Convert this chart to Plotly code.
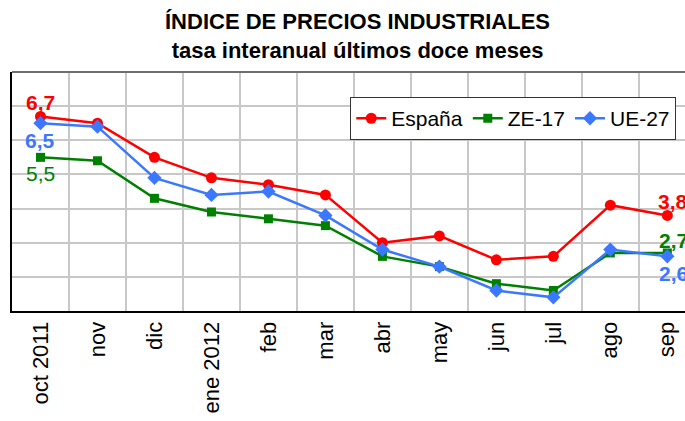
import plotly.graph_objects as go

meses = ["oct 2011", "nov", "dic", "ene 2012", "feb", "mar", "abr", "may", "jun", "jul", "ago", "sep"]
espana = [6.7, 6.5, 5.5, 4.9, 4.7, 4.4, 3.0, 3.2, 2.5, 2.6, 4.1, 3.8]
ze17 = [5.5, 5.4, 4.3, 3.9, 3.7, 3.5, 2.6, 2.3, 1.8, 1.6, 2.7, 2.7]
ue27 = [6.5, 6.4, 4.9, 4.4, 4.5, 3.8, 2.8, 2.3, 1.6, 1.4, 2.8, 2.6]

ROJO = "#ff0000"
VERDE = "#008000"
AZUL = "#3c78ff"
FUENTE = "Arial, Liberation Sans, sans-serif"

fig = go.Figure()
fig.add_trace(go.Scatter(x=meses, y=espana, name="España", mode="lines+markers",
                         line=dict(color=ROJO, width=2.5),
                         marker=dict(symbol="circle", size=11, color=ROJO)))
fig.add_trace(go.Scatter(x=meses, y=ze17, name="ZE-17", mode="lines+markers",
                         line=dict(color=VERDE, width=2.5),
                         marker=dict(symbol="square", size=9, color=VERDE)))
fig.add_trace(go.Scatter(x=meses, y=ue27, name="UE-27", mode="lines+markers",
                         line=dict(color=AZUL, width=2.5),
                         marker=dict(symbol="diamond", size=11, color=AZUL)))

def etiqueta(serie, i, color, dy, dx=0, negrita=True):
    txt = f"{serie[i]:.1f}".replace(".", ",")
    if negrita:
        txt = "<b>" + txt + "</b>"
    fig.add_annotation(x=meses[i], y=serie[i], text=txt, showarrow=False,
                       xshift=dx, yshift=dy, font=dict(family=FUENTE, size=21, color=color))

etiqueta(espana, 0, ROJO, 14)
etiqueta(ue27, 0, AZUL, -17)
etiqueta(ze17, 0, VERDE, -16, negrita=False)
etiqueta(espana, 11, ROJO, 14, dx=6)
etiqueta(ze17, 11, VERDE, 12, dx=6)
etiqueta(ue27, 11, AZUL, -17, dx=6)

# titulo como anotacion (dos lineas)
fig.add_annotation(xref="paper", yref="paper", x=0.513, y=1.028, xanchor="center", yanchor="bottom",
                   text="<b>ÍNDICE DE PRECIOS INDUSTRIALES<br>tasa interanual últimos doce meses</b>",
                   showarrow=False, font=dict(family=FUENTE, size=22, color="black"))

# borde superior gris
fig.add_shape(type="line", xref="paper", yref="paper", x0=0, x1=1, y0=1, y1=1,
              line=dict(color="#6e6e6e", width=2))

fig.update_layout(
    width=685, height=421,
    margin=dict(l=12, r=0, t=72, b=110),
    paper_bgcolor="white", plot_bgcolor="white",
    font=dict(family=FUENTE, color="black"),
    legend=dict(orientation="h", x=0.987, xanchor="right", y=0.895, yanchor="top",
                bgcolor="white", bordercolor="#333333", borderwidth=1,
                font=dict(family=FUENTE, size=21, color="black")),
    showlegend=True,
)
fig.update_xaxes(type="category", range=[-0.5, 11.31], tickson="boundaries",
                 showgrid=True, gridcolor="#c8c8c8", gridwidth=1.5,
                 ticks="", tickangle=-90, tickfont=dict(family=FUENTE, size=22, color="black"),
                 showline=True, linecolor="black", linewidth=2)
fig.update_yaxes(range=[1, 8], dtick=1, showgrid=True, gridcolor="#c8c8c8", gridwidth=1.5,
                 showticklabels=False, ticks="", zeroline=False,
                 showline=True, linecolor="black", linewidth=2)

# sin margen en el body para que la figura ocupe toda la ventana
fig.write_html("out.html", config={"displayModeBar": False},
               post_script="document.body.style.margin='0';document.body.style.overflow='hidden';")
